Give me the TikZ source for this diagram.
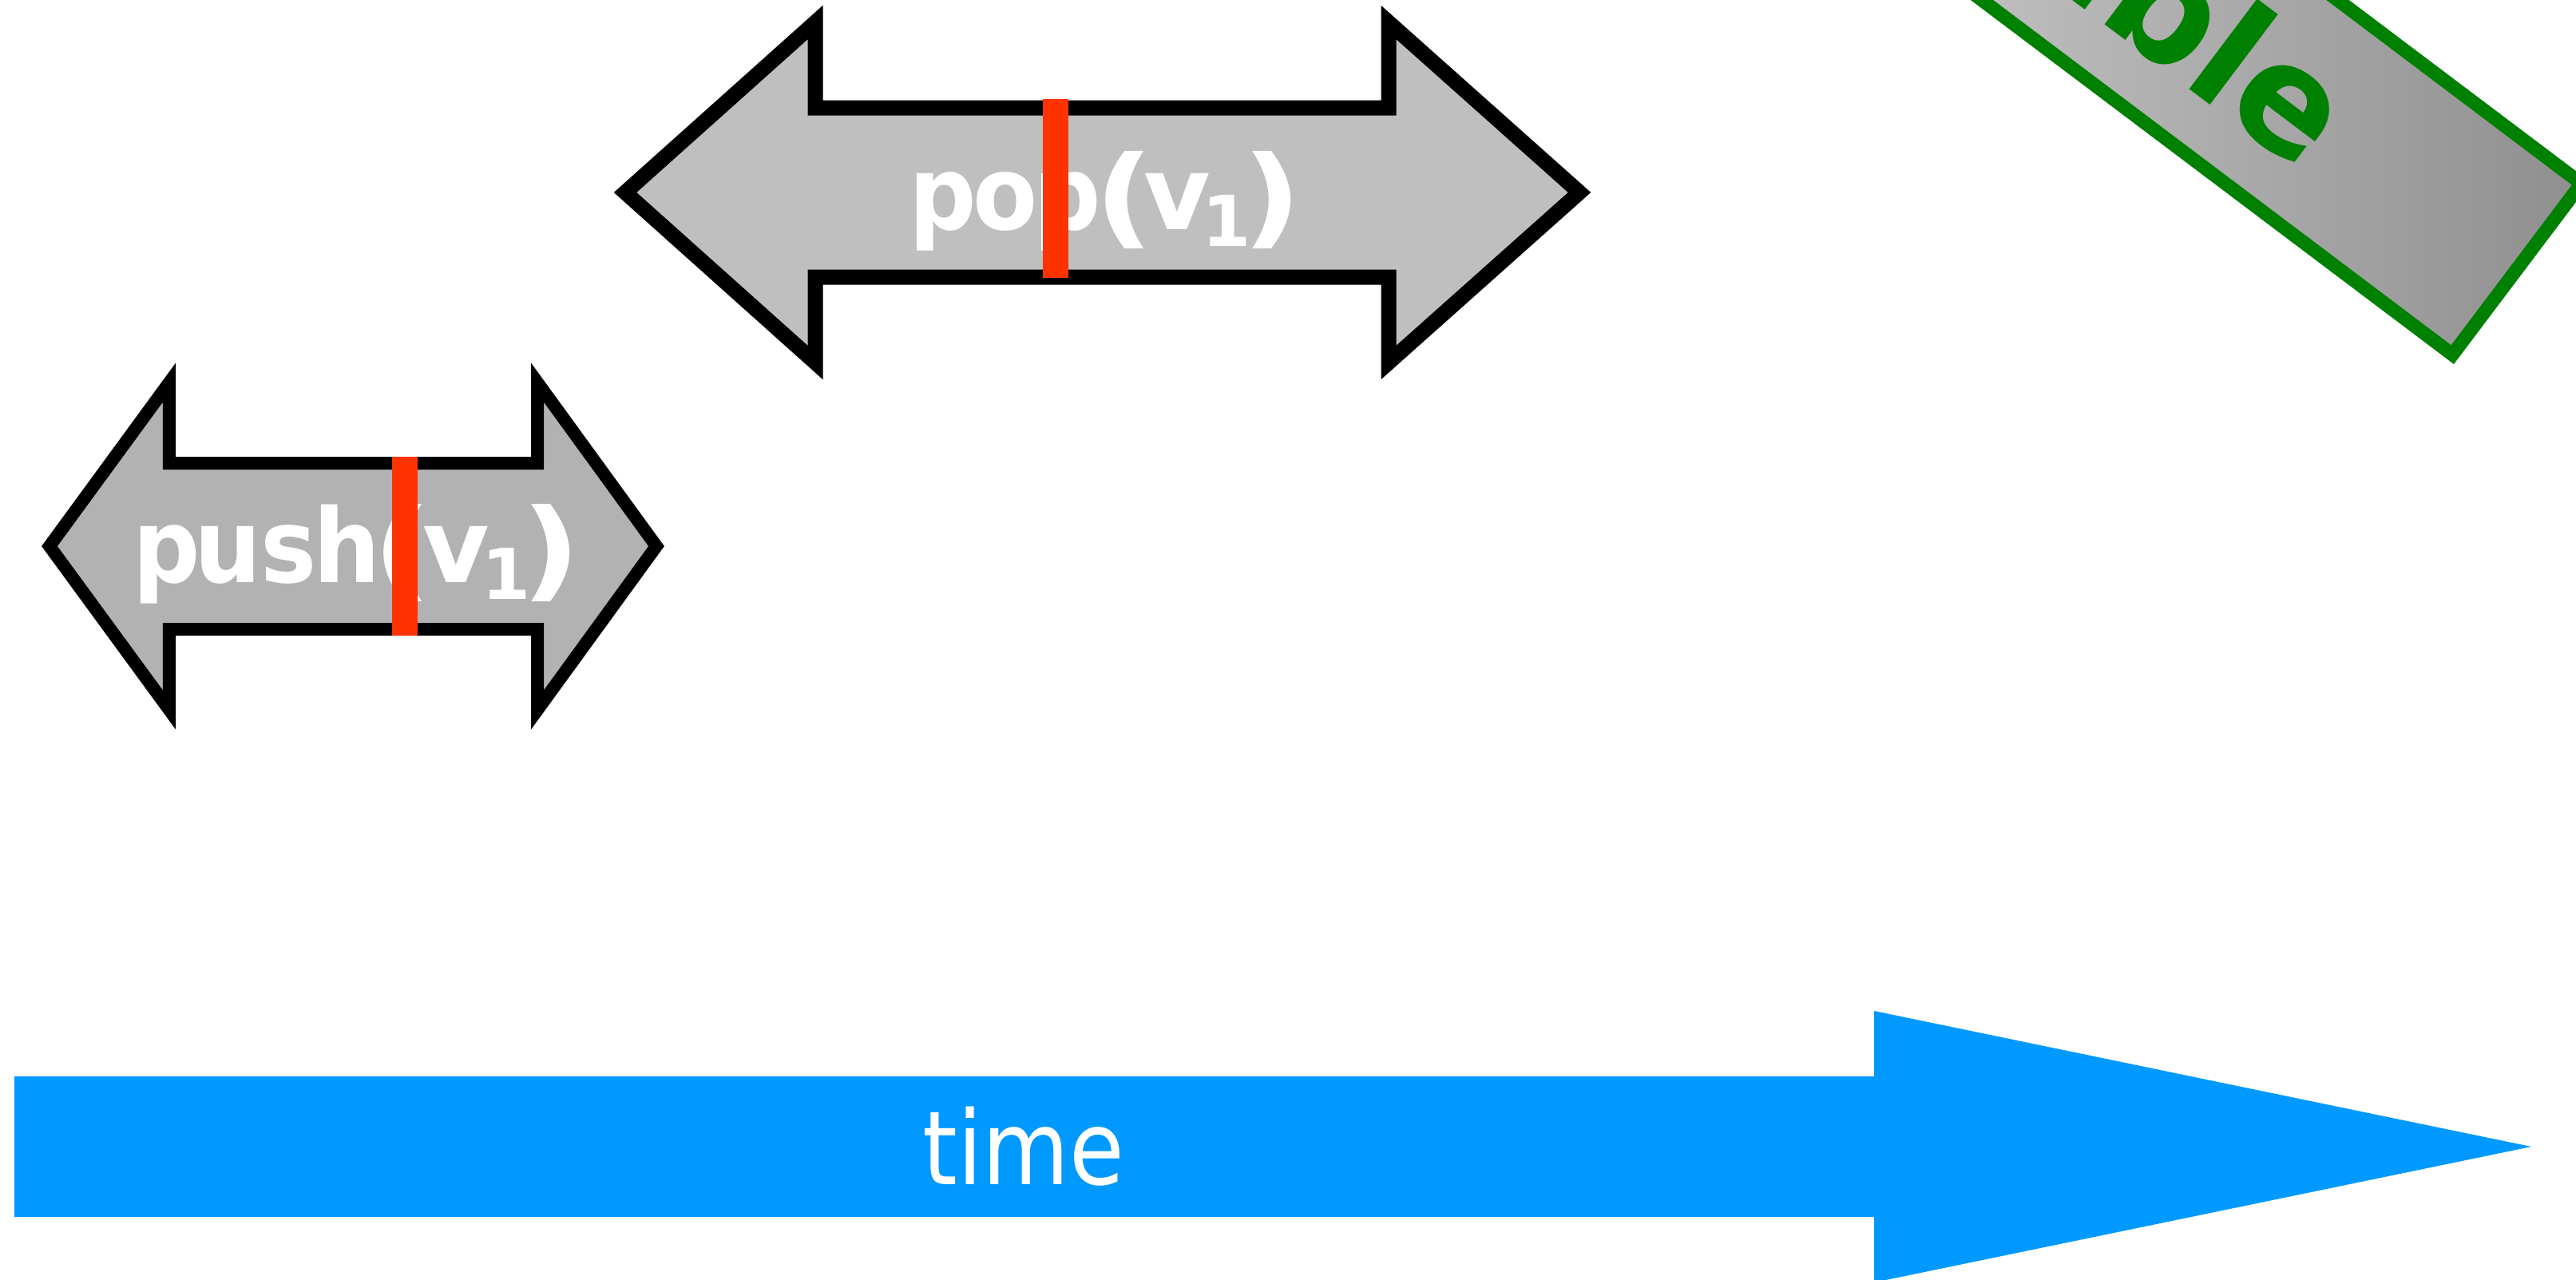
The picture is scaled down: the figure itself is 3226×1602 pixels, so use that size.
\documentclass[tikz,border=0pt]{standalone}
\usepackage{fontspec}
\setmainfont{DejaVu Sans}[FakeStretch=0.87]
\newfontfamily\opfont{DejaVu Sans}[FakeStretch=0.92]
\newfontfamily\vfont{DejaVu Sans}
\newfontfamily\parenfont{DejaVu Sans}[FakeStretch=1.2]
\usepackage{tikz}
\definecolor{timeblue}{RGB}{0,153,255}
\definecolor{linred}{RGB}{255,51,0}
\definecolor{okgreen}{RGB}{0,128,0}
\definecolor{pushgray}{RGB}{178,178,178}
\definecolor{popgray}{RGB}{191,191,191}
\definecolor{shadelight}{RGB}{243,243,243}
\definecolor{shadedark}{RGB}{143,143,143}
\newcommand{\gl}[2]{\makebox[#1cm]{#2}}
\newcommand{\wparen}[1]{\raisebox{-0.06cm}{\parenfont\fontsize{39pt}{40pt}\selectfont #1}}
\newcommand{\subone}{\raisebox{-0.21cm}{\vfont\fontsize{25pt}{25pt}\selectfont 1}}

\begin{document}
\begin{tikzpicture}[x=0.01cm,y=-0.01cm,
    oparrow/.style={draw=black,line width=#1,line join=miter},
    oplabel/.style={text=white,inner sep=0pt,anchor=base,
      font=\opfont\fontsize{36.5pt}{40pt}\selectfont\bfseries}]
  \useasboundingbox (0,0) rectangle (3226,1602);
  \clip (0,0) rectangle (3226,1602);
  \filldraw[fill=pushgray,oparrow=0.16cm] (62,684) -- (212,479) -- (212,580) -- (673,580)
    -- (673,479) -- (822,684) -- (673,889) -- (673,788) -- (212,788) -- (212,889) -- cycle;
  \filldraw[fill=popgray,oparrow=0.19cm] (783,241) -- (1021,28) -- (1021,135) -- (1739,135)
    -- (1739,28) -- (1978,241) -- (1739,454) -- (1739,347) -- (1021,347) -- (1021,454) -- cycle;
  \fill[timeblue] (18,1348) -- (2347,1348) -- (2347,1266) -- (3170,1436)
    -- (2347,1606) -- (2347,1524) -- (18,1524) -- cycle;
  \node[oplabel] (pushlbl) at (443,729) {\gl{0.785}{p}\gl{0.765}{u}\gl{0.74}{s}\gl{0.72}{h}%
    \gl{0.68}{\wparen{(}}\gl{0.655}{\vfont v}\gl{0.595}{\subone}\gl{0.535}{\wparen{)}}};
  \node[oplabel] (poplbl) at (1381,287) {\gl{0.78}{p}\gl{0.795}{o}\gl{0.75}{p}%
    \gl{0.67}{\wparen{(}}\gl{0.6525}{\vfont v}\gl{0.5975}{\subone}\gl{0.54}{\wparen{)}}};
  \node[oplabel,font=\fontsize{36.5pt}{40pt}\selectfont] (timelbl) at (1282,1483) {time};
  \foreach \x/\ya/\yb in {507/572/796, 1322/124/348}
    \fill[linred] (\x-16,\ya) rectangle (\x+16,\yb);
  \node[draw=okgreen,line width=0.17cm,text=okgreen,left color=shadelight,right color=shadedark,
    font=\vfont\fontsize{53pt}{56pt}\selectfont\bfseries,rotate=-37,anchor=south east,
    minimum height=2.68cm,inner xsep=2.885cm,inner ysep=0pt,text depth=0.085cm]
    (verdict) at (3073,456) {linearizable};
\end{tikzpicture}
\end{document}
